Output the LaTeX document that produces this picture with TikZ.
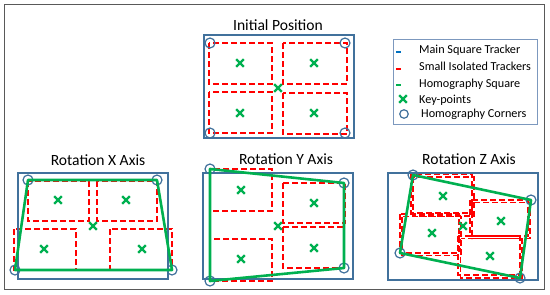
\documentclass[tikz,border=0pt]{standalone}
\usepackage{fontspec}
\setmainfont{Carlito}
\usetikzlibrary{shapes.misc}

\definecolor{mainblue}{RGB}{65,113,156}
\definecolor{legblue}{RGB}{0,112,192}
\definecolor{trackred}{RGB}{255,0,0}
\definecolor{homgreen}{RGB}{0,176,80}
\definecolor{framegray}{RGB}{89,89,89}
\definecolor{legedge}{RGB}{124,152,190}

\begin{document}
\begin{tikzpicture}[x=1pt,y=-1pt,
    mainsq/.style={draw=mainblue,line width=1.3pt},
    tracker/.style={draw=trackred,line width=1.5pt,dash pattern=on 6pt off 3pt},
    homsq/.style={draw=homgreen,line width=2.6pt,line join=round},
    keypt/.style={cross out,draw=homgreen,line width=2.2pt,minimum size=5.5pt,inner sep=0pt},
    hcorner/.style={circle,draw=mainblue,line width=1.2pt,minimum size=10pt,inner sep=0pt},
    title/.style={anchor=base,inner sep=0pt,font=\fontsize{15.6}{18}\selectfont},
    legtext/.style={anchor=base west,inner sep=0pt,font=\fontsize{12.2}{14}\selectfont}]
      \useasboundingbox (0,0) rectangle (550,295);
      \draw[framegray,line width=1pt] (4,4) rectangle (544,289);

      % initial position
      \node[title] (tinit) at (278,30) {Initial Position};
      \draw[tracker] (209,43) rectangle (272,84);
      \draw[tracker] (283,43) rectangle (347,84);
      \draw[tracker] (209,92) rectangle (272,133);
      \draw[tracker] (283,93) rectangle (347,134);
      \draw[mainsq] (204,35) rectangle (354,138);
      \node[hcorner] (ic1) at (210,43) {};
      \node[hcorner] (ic2) at (345,43) {};
      \node[hcorner] (ic3) at (345,133) {};
      \node[hcorner] (ic4) at (210,133) {};
      \node[keypt] (ik1) at (240,63) {};
      \node[keypt] (ik2) at (314,63) {};
      \node[keypt] (ik0) at (278,88) {};
      \node[keypt] (ik3) at (240,113) {};
      \node[keypt] (ik4) at (314,113) {};

      % rotation x axis
      \node[title] (trotx) at (98,165) {Rotation X Axis};
      \draw[tracker] (28,181) rectangle (89,221);
      \draw[tracker] (97,181) rectangle (157,221);
      \draw[tracker] (14,229) rectangle (76,270);
      \draw[tracker] (110,229) rectangle (172,270);
      \draw[mainsq] (18,173) rectangle (168,279);
      \node[hcorner] (xc1) at (28,180) {};
      \node[hcorner] (xc2) at (157,180) {};
      \node[hcorner] (xc3) at (172,270) {};
      \node[hcorner] (xc4) at (15,270) {};
      \draw[homsq] (xc1.center) -- (xc2.center) -- (xc3.center) -- (xc4.center) -- cycle;
      \node[keypt] (xk1) at (58,200) {};
      \node[keypt] (xk2) at (126,200) {};
      \node[keypt] (xk0) at (93,226) {};
      \node[keypt] (xk3) at (44,249) {};
      \node[keypt] (xk4) at (142,249) {};

      % rotation y axis
      \node[title] (troty) at (286,164) {Rotation Y Axis};
      \draw[tracker] (210,169) rectangle (272,211);
      \draw[tracker] (283,183) rectangle (345,223);
      \draw[tracker] (210,239) rectangle (272,281);
      \draw[tracker] (283,227) rectangle (344,268);
      \draw[mainsq] (203,173) rectangle (353,279);
      \node[hcorner] (yc1) at (210,169) {};
      \node[hcorner] (yc2) at (344,183) {};
      \node[hcorner] (yc3) at (344,268) {};
      \node[hcorner] (yc4) at (210,281) {};
      \draw[homsq] (yc1.center) -- (yc2.center) -- (yc3.center) -- (yc4.center) -- cycle;
      \node[keypt] (yk1) at (241,190) {};
      \node[keypt] (yk2) at (314,203) {};
      \node[keypt] (yk0) at (278,226) {};
      \node[keypt] (yk3) at (241,259) {};
      \node[keypt] (yk4) at (314,248) {};

      % rotation z axis
      \node[title] (trotz) at (469,164) {Rotation Z Axis};
      \draw[tracker] (411,174) rectangle (472,213);
      \draw[tracker] (413,177) rectangle (474,216);
      \draw[tracker] (470,200) rectangle (528,236);
      \draw[tracker] (472,202.5) rectangle (530,238.5);
      \draw[tracker] (400,214) rectangle (459,253);
      \draw[tracker] (402,216.5) rectangle (461,255.5);
      \draw[tracker] (458,236) rectangle (520,275);
      \draw[tracker] (460.5,238.5) rectangle (522,278);
      \draw[mainsq] (388,173) rectangle (538,280);
      \node[hcorner] (zc1) at (413,175) {};
      \node[hcorner] (zc2) at (531,200) {};
      \node[hcorner] (zc3) at (520,278) {};
      \node[hcorner] (zc4) at (400,253) {};
      \draw[homsq] (zc1.center) -- (zc2.center) -- (zc3.center) -- (zc4.center) -- cycle;
      \node[keypt] (zk1) at (443,196) {};
      \node[keypt] (zk2) at (501,221) {};
      \node[keypt] (zk0) at (463,226) {};
      \node[keypt] (zk3) at (432,233) {};
      \node[keypt] (zk4) at (490,256) {};

      % legend
      \draw[legedge,line width=0.8pt] (393,39) rectangle (537,124);
      \draw[legblue,line width=1.6pt] (396,52) -- (401,52);
      \draw[trackred,line width=1.6pt] (396,69) -- (401,69);
      \draw[homgreen,line width=1.6pt] (396,85) -- (401,85);
      \node[keypt] (lkey) at (403,99) {};
      \node[hcorner,minimum size=8.5pt] (lcorner) at (404,114) {};
      \node[legtext] (lmain) at (419,53) {Main Square Tracker};
      \node[legtext] (lsmall) at (419,70) {Small Isolated Trackers};
      \node[legtext] (lhom) at (419,87) {Homography Square};
      \node[legtext] (lkp) at (419,103) {Key-points};
      \node[legtext] (lhc) at (421,117) {Homography Corners};
    \end{tikzpicture}
\end{document}
